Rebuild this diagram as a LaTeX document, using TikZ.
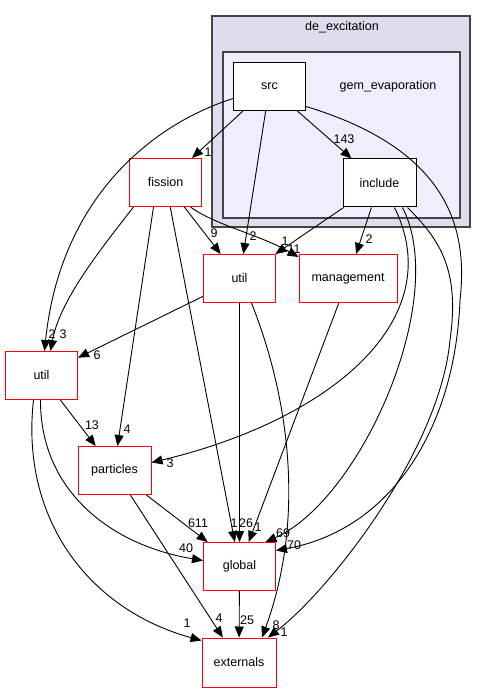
\documentclass[tikz,border=0pt]{standalone}
\usepackage{fontspec}
\setmainfont{Liberation Sans}
\usetikzlibrary{arrows.meta}
\definecolor{outerfill}{HTML}{DDDDEE}
\definecolor{innerfill}{HTML}{EEEEFF}
\definecolor{clusterline}{HTML}{444444}
\definecolor{extline}{HTML}{FF0000}

\begin{document}
\begin{tikzpicture}[x=1pt,y=-1pt,font=\fontsize{12.5}{14}\selectfont]
    \tikzstyle{box}=[rectangle,draw=black,fill=white,line width=1pt,minimum width=72pt,minimum height=48pt,inner sep=0pt]
    \tikzstyle{extbox}=[rectangle,draw=extline,fill=white,line width=1pt,minimum width=72pt,minimum height=48pt,inner sep=0pt]
    \tikzstyle{cluster}=[draw=clusterline,line width=1.6pt]
    \tikzstyle{dep}=[line width=0.9pt,-{Triangle[length=11pt,width=9pt]}]
    \tikzstyle{lbl}=[inner sep=0pt]
    \useasboundingbox (0,0) rectangle (487,692);
    % directory clusters
    \path [cluster,fill=outerfill] (212,16) rectangle (470,227);
    \path [cluster,fill=innerfill] (223,52) rectangle (460,218);
    \node (dexlbl) at (342,27) {de\_excitation};
    \node (gemlbl) at (388,86) {gem\_evaporation};
    % directories
    \node (src)     at (269.5,86.5)  [box] {src};
    \node (include) at (379.5,183)   [box,minimum width=73pt] {include};
    \node (fission) at (165.5,182.5) [extbox] {fission};
    \node (utilM)   at (239.5,278.5) [extbox] {util};
    \node (mgmt)    at (348,278.5)   [extbox,minimum width=98pt] {management};
    \node (utilL)   at (41.5,375.5)  [extbox] {util};
    \node (parts)   at (114.5,470.5) [extbox,minimum width=73pt] {particles};
    \node (global)  at (239.5,566.5) [extbox] {global};
    \node (extern)  at (239,662.5)   [extbox,minimum width=74pt,minimum height=49pt] {externals};
    % dependencies
    \draw [dep] (src) -- (fission) node [lbl] (l1) at (208,152) {1};
    \draw [dep] (src) -- (utilM) node [lbl] (l2) at (253,236) {2};
    \draw [dep] (src) -- (include) node [lbl] (l3) at (344,139) {143};
    \draw [dep] ([yshift=-12pt]src.west) .. controls (150,125) and (60,200) .. ([xshift=3pt]utilL.north) node [lbl] (l4) at (52,334) {2};
    \draw [dep] ([yshift=-20pt]src.east) .. controls (450,150) and (468,230) .. (460,300) .. controls (455,430) and (390,530) .. ([yshift=16pt]global.east) node [lbl] (l5) at (294,545) {70};
    \draw [dep] ([xshift=-32pt]fission.south) .. controls (100,250) and (60,300) .. ([xshift=9pt]utilL.north) node [lbl] (l6) at (63,334) {3};
    \draw [dep] (fission) -- (utilM) node [lbl] (l7) at (214,233) {9};
    \draw [dep] ([xshift=25pt]fission.south) .. controls (215,225) and (260,235) .. ([yshift=-3pt]mgmt.north west) node [lbl] (l8) at (294,249) {11};
    \draw [dep] ([xshift=-12pt]fission.south) -- ([xshift=3pt]parts.north) node [lbl] (l9) at (127,429) {4};
    \draw [dep] (fission) -- (global) node [lbl] (l10) at (234,523) {1};
    \draw [dep] (include) -- (utilM) node [lbl] (l11) at (285,241) {1};
    \draw [dep] (include) -- (mgmt) node [lbl] (l12) at (369,239) {2};
    \draw [dep] ([xshift=15pt]include.south) .. controls (450,320) and (330,420) .. ([yshift=8pt]parts.east) node [lbl] (l13) at (170,463) {3};
    \draw [dep] ([xshift=23pt]include.south) .. controls (450,300) and (360,500) .. ([xshift=26pt]global.north) node [lbl] (l14) at (283,533) {69};
    \draw [dep] ([xshift=28pt]include.south) .. controls (440,240) and (460,270) .. (450,340) .. controls (440,450) and (330,590) .. ([xshift=29pt]extern.north) node [lbl] (l15) at (284,632) {1};
    \draw [dep] (utilM) -- (utilL) node [lbl] (l16) at (97,355) {6};
    \draw [dep] (utilM) -- (global) node [lbl] (l17) at (246,523) {26};
    \draw [dep] ([xshift=12pt]utilM.south) .. controls (290,400) and (305,520) .. ([xshift=23pt]extern.north) node [lbl] (l18) at (276,625) {8};
    \draw [dep] (mgmt) -- (global) node [lbl] (l19) at (258,527) {1};
    \draw [dep] (utilL) -- (parts) node [lbl] (l20) at (92,425) {13};
    \draw [dep] ([xshift=-1pt]utilL.south) .. controls (40,490) and (110,545) .. ([yshift=6pt]global.west) node [lbl] (l21) at (186,548) {40};
    \draw [dep] ([xshift=-8pt]utilL.south) .. controls (20,520) and (90,610) .. ([yshift=22pt]extern.west) node [lbl] (l22) at (187,623) {1};
    \draw [dep] (parts) -- (global) node [lbl] (l23) at (198,523) {611};
    \draw [dep] (parts) -- (extern) node [lbl] (l24) at (219,618) {4};
    \draw [dep] (global) -- (extern) node [lbl] (l25) at (247,620) {25};
  \end{tikzpicture}
\end{document}
